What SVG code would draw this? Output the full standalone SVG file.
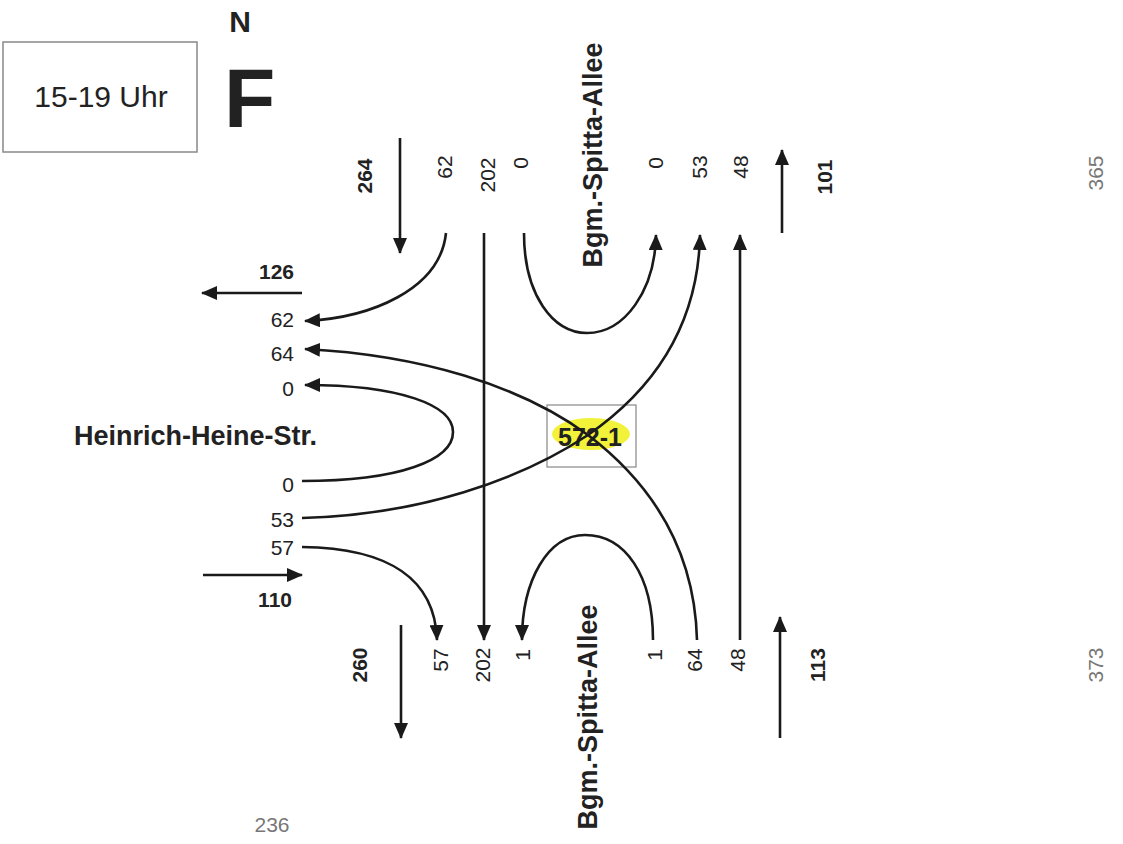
<svg xmlns="http://www.w3.org/2000/svg" width="1123" height="844" viewBox="0 0 1123 844">
<style>
text{font-family:"Liberation Sans",Arial,sans-serif;fill:#222}
.n{font-size:21px}
.b{font-weight:bold}
.st{font-size:27px;font-weight:bold}
.g{fill:#777}
.flow{fill:none;stroke:#1a1a1a;stroke-width:2.6;marker-end:url(#ah)}
</style>
<defs>
<marker id="ah" markerUnits="userSpaceOnUse" markerWidth="16" markerHeight="14" refX="15" refY="7" orient="auto">
<path d="M0,0 L16,7 L0,14 z" fill="#1a1a1a"/>
</marker>
</defs>
<rect width="1123" height="844" fill="#fff"/>

<g id="time-box">
<rect x="3" y="42" width="194" height="110" fill="#fff" stroke="#888" stroke-width="1.5"/>
<text x="101" y="107" font-size="30" text-anchor="middle">15-19 Uhr</text>
</g>
<g id="north">
<text x="240" y="32" font-size="30" font-weight="bold" text-anchor="middle">N</text>
<text x="224" y="127" font-size="84" font-weight="bold">F</text>
</g>

<g id="node-572-1">
<ellipse cx="591" cy="434" rx="39" ry="16" fill="#f2f23a"/>
<rect x="547" y="405" width="89" height="62" fill="none" stroke="#888" stroke-width="1.2"/>
<text x="590" y="446" font-size="25" font-weight="bold" text-anchor="middle">572-1</text>
</g>

<g id="connectors">
<path class="flow" d="M400,138 L400,253"/>
<path class="flow" d="M782,233 L782,150"/>
<path class="flow" d="M302,293 L202,293"/>
<path class="flow" d="M203,575 L302,575"/>
<path class="flow" d="M401,625 L401,738"/>
<path class="flow" d="M780,738 L780,617"/>
<path class="flow" d="M446,233 C440,290 370,318 305,321"/>
<path class="flow" d="M484,233 L484,640"/>
<path class="flow" d="M524,233 C524,295 553,333 587,333 C625,333 655,290 656,235"/>
<path class="flow" d="M302,481 C400,481 453,460 453,432 C453,405 400,385 305,385"/>
<path class="flow" d="M302,518 C420,515 520,480 588,435 C650,392 698,330 700,235"/>
<path class="flow" d="M302,547 C390,548 435,580 437,640"/>
<path class="flow" d="M653,640 C653,575 625,535 585,535 C548,535 522,580 522,640"/>
<path class="flow" d="M697,640 C695,560 660,490 588,435 C520,385 420,355 305,349"/>
<path class="flow" d="M740,640 L740,235"/>
</g>

<g id="labels-north">
<text class="n b" transform="translate(372,176) rotate(-90)" text-anchor="middle">264</text>
<text class="n" transform="translate(452,167) rotate(-90)" text-anchor="middle">62</text>
<text class="n" transform="translate(495,175) rotate(-90)" text-anchor="middle">202</text>
<text class="n" transform="translate(528,163) rotate(-90)" text-anchor="middle">0</text>
<text class="st" transform="translate(602,155) rotate(-90)" text-anchor="middle">Bgm.-Spitta-Allee</text>
<text class="n" transform="translate(663,163) rotate(-90)" text-anchor="middle">0</text>
<text class="n" transform="translate(707,167) rotate(-90)" text-anchor="middle">53</text>
<text class="n" transform="translate(748,167) rotate(-90)" text-anchor="middle">48</text>
<text class="n b" transform="translate(832,177) rotate(-90)" text-anchor="middle">101</text>
<text class="n g" transform="translate(1103,173) rotate(-90)" text-anchor="middle">365</text>
</g>

<g id="labels-west">
<text class="n b" x="294" y="279" text-anchor="end">126</text>
<text class="n" x="294" y="327" text-anchor="end">62</text>
<text class="n" x="294" y="361" text-anchor="end">64</text>
<text class="n" x="294" y="396" text-anchor="end">0</text>
<text class="st" x="74" y="445">Heinrich-Heine-Str.</text>
<text class="n" x="294" y="492" text-anchor="end">0</text>
<text class="n" x="294" y="527" text-anchor="end">53</text>
<text class="n" x="294" y="555" text-anchor="end">57</text>
<text class="n b" x="292" y="607" text-anchor="end">110</text>
</g>

<g id="labels-south">
<text class="n b" transform="translate(367,665) rotate(-90)" text-anchor="middle">260</text>
<text class="n" transform="translate(448,660) rotate(-90)" text-anchor="middle">57</text>
<text class="n" transform="translate(490,665) rotate(-90)" text-anchor="middle">202</text>
<text class="n" transform="translate(530,655) rotate(-90)" text-anchor="middle">1</text>
<text class="st" transform="translate(597,717) rotate(-90)" text-anchor="middle">Bgm.-Spitta-Allee</text>
<text class="n" transform="translate(662,655) rotate(-90)" text-anchor="middle">1</text>
<text class="n" transform="translate(702,660) rotate(-90)" text-anchor="middle">64</text>
<text class="n" transform="translate(745,660) rotate(-90)" text-anchor="middle">48</text>
<text class="n b" transform="translate(825,665) rotate(-90)" text-anchor="middle">113</text>
<text class="n g" transform="translate(1103,665) rotate(-90)" text-anchor="middle">373</text>
<text class="n g" x="272" y="832" text-anchor="middle">236</text>
</g>
</svg>
